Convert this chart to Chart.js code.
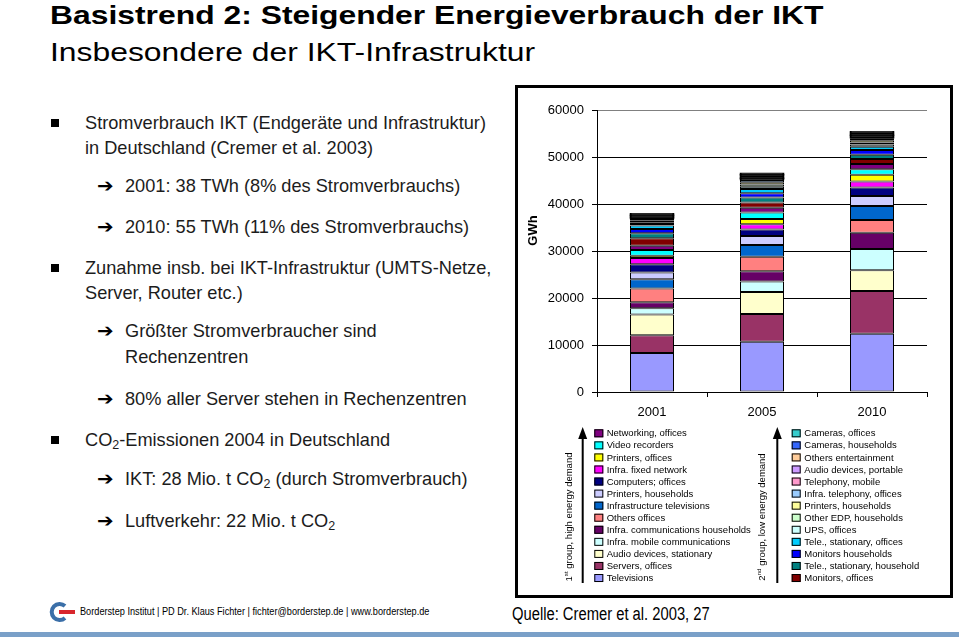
<!DOCTYPE html>
<html lang="de">
<head>
<meta charset="utf-8">
<title>Basistrend 2: Steigender Energieverbrauch der IKT</title>
<script src="https://cdn.jsdelivr.net/npm/chart.js@4.4.0/dist/chart.umd.min.js"></script>
<style>
  body { margin: 0; width: 959px; height: 637px; position: relative; overflow: hidden; background: #fff;
         font-family: "Liberation Sans", Arial, sans-serif; }
  .t { position: absolute; white-space: nowrap; }
  .wide { transform: scaleX(1.225); transform-origin: left center; }
  #h1 { left: 50px; top: -2px; font-size: 26px; font-weight: bold; line-height: 34px; color: #000; }
  #h2 { left: 50px; top: 35px; font-size: 26px; line-height: 34px; color: #000; }
  .ln { font-size: 18.2px; line-height: 20px; color: #1c1c1c; }
  .ln sub { font-size: 12.5px; vertical-align: -3px; line-height: 0; }
  .sq { position: absolute; left: 51px; width: 8px; height: 8px; background: #000; }
  .ar { font-family: "DejaVu Sans", sans-serif; font-weight: bold; font-size: 18px; line-height: 20px; left: 97px; color: #000;
        transform: scaleX(1.1); transform-origin: left center; }
  #box { position: absolute; left: 515px; top: 85px; width: 438px; height: 513px; box-sizing: border-box;
         border: 3px solid #000; }
  #chart { position: absolute; left: 0; top: 0; }
  .narrow { transform: scaleX(0.82); transform-origin: left center; }
  #foot { left: 80px; top: 604px; font-size: 11.2px; line-height: 14px; color: #000; }
  #quelle { left: 512px; top: 604px; font-size: 18px; line-height: 20px; color: #000; }
  #bar { position: absolute; left: 0; top: 632px; width: 959px; height: 5px; background: #7aa0c8; }
  #logo { position: absolute; left: 46px; top: 601px; }
</style>
</head>
<body>
<div class="t wide" id="h1">Basistrend 2: Steigender Energieverbrauch der IKT</div>
<div class="t wide" id="h2">Insbesondere der IKT-Infrastruktur</div>

<div class="sq" style="top:119px"></div>
<div class="t ln" style="left:85px;top:113px">Stromverbrauch IKT (Endgeräte und Infrastruktur)</div>
<div class="t ln" style="left:85px;top:138px">in Deutschland (Cremer et al. 2003)</div>
<div class="t ar" style="top:176px">➔</div>
<div class="t ln" style="left:125px;top:176px">2001: 38 TWh (8% des Stromverbrauchs)</div>
<div class="t ar" style="top:217px">➔</div>
<div class="t ln" style="left:125px;top:217px">2010: 55 TWh (11% des Stromverbrauchs)</div>
<div class="sq" style="top:264px"></div>
<div class="t ln" style="left:85px;top:258px">Zunahme insb. bei IKT-Infrastruktur (UMTS-Netze,</div>
<div class="t ln" style="left:85px;top:283px">Server, Router etc.)</div>
<div class="t ar" style="top:321px">➔</div>
<div class="t ln" style="left:125px;top:321px">Größter Stromverbraucher sind</div>
<div class="t ln" style="left:125px;top:347px">Rechenzentren</div>
<div class="t ar" style="top:389px">➔</div>
<div class="t ln" style="left:125px;top:389px">80% aller Server stehen in Rechenzentren</div>
<div class="sq" style="top:436px"></div>
<div class="t ln" style="left:85px;top:430px">CO<sub>2</sub>-Emissionen 2004 in Deutschland</div>
<div class="t ar" style="top:469px">➔</div>
<div class="t ln" style="left:125px;top:469px">IKT: 28 Mio. t CO<sub>2</sub> (durch Stromverbrauch)</div>
<div class="t ar" style="top:511px">➔</div>
<div class="t ln" style="left:125px;top:511px">Luftverkehr: 22 Mio. t CO<sub>2</sub></div>

<div id="box"><canvas id="chart" width="432" height="507"></canvas></div>

<svg id="logo" width="32" height="22" viewBox="0 0 32 22">
  <path d="M19 5 A8 8 0 1 0 19 17" fill="none" stroke="#3b6fa8" stroke-width="4"/>
  <rect x="13" y="9" width="16" height="4" fill="#d8262d"/>
</svg>
<div class="t narrow" id="foot">Borderstep Institut | PD Dr. Klaus Fichter | fichter@borderstep.de | www.borderstep.de</div>
<div class="t narrow" id="quelle">Quelle: Cremer et al. 2003, 27</div>
<div id="bar"></div>

<script>
// Jahre (x-Achse)
const years = ["2001", "2005", "2010"];
const yTicks = [0, 10000, 20000, 30000, 40000, 50000, 60000];

// 1. Gruppe, hoher Energiebedarf (GWh, von unten nach oben)
const televisions          = [8300, 10700, 12400];
const serversOffices       = [3800,  5900,  9100];
const audioStationary      = [4400,  4700,  4400];
const infraMobile          = [1300,  2200,  4500];
const infraCommHouseholds  = [1300,  2200,  3500];
const othersOffices        = [2900,  3100,  2700];
const infraTelevisions     = [2000,  2500,  3000];
const printersHouseholds   = [1400,  1900,  2100];
const computersOffices     = [1800,  1400,  1800];
const infraFixedNetwork    = [1300,  1100,  1300];
const printersOffices      = [ 500,  1100,  1400];
const videoRecorders       = [1200,  1400,  1200];
const networkingOffices    = [ 900,  1000,  1100];

// 2. Gruppe, niedriger Energiebedarf
const monitorsOffices      = [1600,  1100,  1100];
const teleStatHousehold    = [1100,  1100,   900];
const monitorsHouseholds   = [ 900,   900,  1000];
const teleStatOffices      = [ 700,   900,   700];
const upsOffices           = [ 350,   475,   450];
const otherEdpHouseholds   = [ 350,   475,   450];
const printersHouseholds2  = [ 350,   475,   450];
const infraTelephony       = [ 350,   475,   450];
const telephonyMobile      = [ 250,   300,   280];
const audioPortable        = [ 250,   300,   280];
const othersEntertainment  = [ 250,   300,   280];
const camerasHouseholds    = [ 250,   300,   280];
const camerasOffices       = [ 200,   300,   280];

const seriesLabels = [
  "Televisions", "Servers, offices", "Audio devices, stationary", "Infra. mobile communications",
  "Infra. communications households", "Others offices", "Infrastructure televisions",
  "Printers, households", "Computers; offices", "Infra. fixed network", "Printers, offices",
  "Video recorders", "Networking, offices",
  "Monitors, offices", "Tele., stationary, household", "Monitors households",
  "Tele., stationary, offices", "UPS, offices", "Other EDP, households", "Printers, households",
  "Infra. telephony, offices", "Telephony, mobile", "Audio devices, portable",
  "Others entertainment", "Cameras, households", "Cameras, offices"
];
const seriesValues = [
  televisions, serversOffices, audioStationary, infraMobile, infraCommHouseholds, othersOffices,
  infraTelevisions, printersHouseholds, computersOffices, infraFixedNetwork, printersOffices,
  videoRecorders, networkingOffices,
  monitorsOffices, teleStatHousehold, monitorsHouseholds, teleStatOffices, upsOffices,
  otherEdpHouseholds, printersHouseholds2, infraTelephony, telephonyMobile, audioPortable,
  othersEntertainment, camerasHouseholds, camerasOffices
];
// Excel-Standardpalette
const seriesColors = [
  "#9999FF", "#993366", "#FFFFCC", "#CCFFFF", "#660066", "#FF8080", "#0066CC", "#CCCCFF",
  "#000080", "#FF00FF", "#FFFF00", "#00FFFF", "#800080",
  "#800000", "#008080", "#0000FF", "#00CCFF", "#CCFFFF", "#CCFFCC", "#FFFF99", "#99CCFF",
  "#FF99CC", "#CC99FF", "#FFCC99", "#3366FF", "#33CCCC"
];
const groupCount = 13;
// die obersten, sehr schmalen Segmente erscheinen im Original nur als schwarze Randlinien
const thinSeries = 5;

const FONT = '"Liberation Sans", Arial, sans-serif';

// Legende mit zwei Gruppen, Pfeilen und gedrehten Beschriftungen
const groupLegend = {
  id: "groupLegend",
  afterDraw(chart) {
    const c = chart.ctx;
    c.save();

    // Achsentitel GWh
    c.save();
    c.translate(15.5, 142.5);
    c.rotate(-Math.PI / 2);
    c.font = "bold 13px " + FONT;
    c.fillStyle = "#000";
    c.textAlign = "center";
    c.textBaseline = "middle";
    c.fillText("GWh", 0, 0);
    c.restore();

    const rowH = 12.06, top = 341.3;
    const groups = [
      { from: 0, sx: 76.3, tx: 88.7, ax: 64.7, lx: 51, ord: "st", rest: " group, high energy demand" },
      { from: groupCount, sx: 273.7, tx: 286.3, ax: 259.3, lx: 244.7, ord: "nd", rest: " group, low energy demand" }
    ];
    groups.forEach(g => {
      for (let k = 0; k < groupCount; k++) {
        const idx = g.from + groupCount - 1 - k;
        const y = top + k * rowH;
        c.fillStyle = seriesColors[idx];
        c.fillRect(g.sx, y, 9, 8);
        c.strokeStyle = "#000";
        c.lineWidth = 1;
        c.strokeRect(g.sx + 0.5, y + 0.5, 8, 7);
        c.fillStyle = "#000";
        c.font = "9.5px " + FONT;
        c.textAlign = "left";
        c.textBaseline = "middle";
        c.fillText(seriesLabels[idx], g.tx, y + 4.5);
      }
      // Pfeil
      c.strokeStyle = "#000";
      c.lineWidth = 2;
      c.beginPath();
      c.moveTo(g.ax, 495);
      c.lineTo(g.ax, 348);
      c.stroke();
      c.beginPath();
      c.moveTo(g.ax, 339);
      c.lineTo(g.ax - 4.5, 351);
      c.lineTo(g.ax + 4.5, 351);
      c.closePath();
      c.fillStyle = "#000";
      c.fill();
      // gedrehte Gruppenbeschriftung
      c.save();
      c.translate(g.lx, 429);
      c.rotate(-Math.PI / 2);
      c.fillStyle = "#000";
      c.textBaseline = "middle";
      const f1 = "9.5px " + FONT, f2 = "6.2px " + FONT;
      c.font = f1; const w1 = c.measureText("1").width, w3 = c.measureText(g.rest).width;
      c.font = f2; const w2 = c.measureText(g.ord).width;
      let x = -(w1 + w2 + w3) / 2;
      c.font = f1; c.fillText(g.from ? "2" : "1", x, 0); x += w1;
      c.font = f2; c.fillText(g.ord, x, -3); x += w2;
      c.font = f1; c.fillText(g.rest, x, 0);
      c.restore();
    });
    c.restore();
  }
};

const datasets = seriesLabels.map((name, i) => {
  const thin = i >= seriesLabels.length - thinSeries;
  return {
    label: name,
    data: seriesValues[i],
    backgroundColor: thin ? "#000" : seriesColors[i],
    borderColor: "#000",
    borderWidth: 1,
    borderSkipped: false,
    inflateAmount: thin ? 0.5 : 0,
    barPercentage: 0.4,
    categoryPercentage: 1
  };
});

new Chart(document.getElementById("chart"), {
  type: "bar",
  data: { labels: years, datasets: datasets },
  plugins: [groupLegend],
  options: {
    responsive: false,
    animation: false,
    layout: { padding: { left: 0, top: 22, right: 23, bottom: 173 } },
    plugins: { legend: { display: false }, tooltip: { enabled: false } },
    scales: {
      x: {
        stacked: true,
        grid: {
          offset: true,
          drawOnChartArea: true,
          color: ctx => ctx.index === years.length ? "#808080" : "rgba(0,0,0,0)",
          tickColor: "#000",
          tickLength: 5
        },
        border: { color: "#000", width: 1 },
        ticks: { color: "#000", font: { family: FONT, size: 13 }, padding: 8 },
        afterFit(scale) { scale.height = 30; }
      },
      y: {
        stacked: true,
        min: 0,
        max: 60000,
        afterBuildTicks(scale) { scale.ticks = yTicks.map(v => ({ value: v })); },
        grid: {
          color: ctx => ctx.tick && ctx.tick.value === 60000 ? "#808080" : "#000",
          tickColor: "#000",
          tickLength: 5
        },
        border: { color: "#000", width: 1 },
        ticks: { color: "#000", font: { family: FONT, size: 13 }, padding: 8, callback: v => String(v) },
        afterFit(scale) { scale.width = 79; }
      }
    }
  }
});
</script>
</body>
</html>
